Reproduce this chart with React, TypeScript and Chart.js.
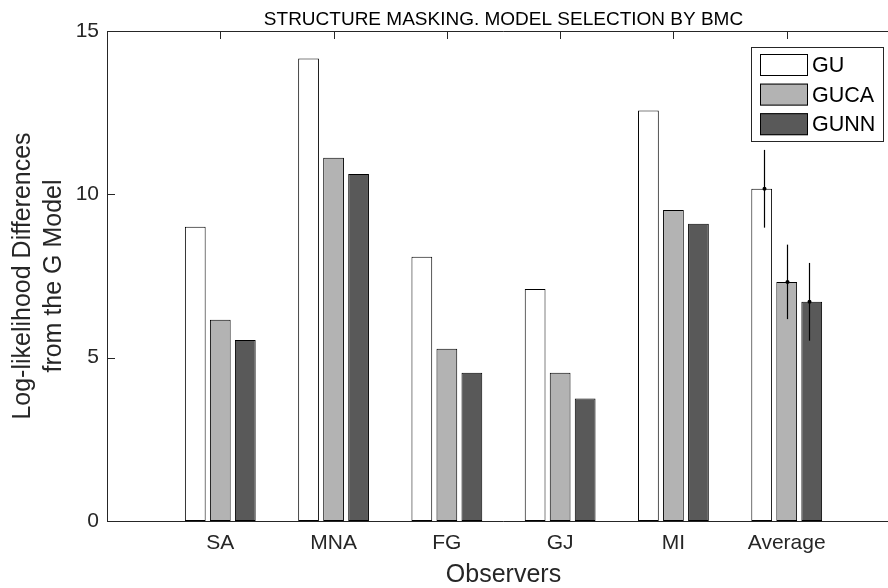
import React, { useEffect, useRef } from "react";
import { Chart, registerables } from "chart.js";

Chart.register(...registerables);

// Observers on the x axis (positions 1..6; position 0 and 7 stay empty)
const observers = ["SA", "MNA", "FG", "GJ", "MI", "Average"];
const seriesNames = ["GU", "GUCA", "GUNN"];

// Log-likelihood differences from the G model, one value per observer
const guValues = [9.01, 14.16, 8.09, 7.1, 12.57, 10.17];
const gucaValues = [6.16, 11.12, 5.27, 4.54, 9.52, 7.32];
const gunnValues = [5.54, 10.62, 4.54, 3.75, 9.1, 6.71];

// Spread of the "Average" bars and the x offsets (in category units) of their error bars
const averageErrors = [1.19, 1.14, 1.19];
const errorOffsets = [-0.2, 0, 0.2];

const yTicks = [0, 5, 10, 15];
const fillColors = ["#ffffff", "#b3b3b3", "#595959"];

const FONT = "'Liberation Sans', Arial, Helvetica, sans-serif";
const AXIS_COLOR = "#262626";

const seriesValues = [guValues, gucaValues, gunnValues];

// Axis frame with MATLAB-style inward tick marks
const frameTicks = {
  id: "frameTicks",
  beforeDatasetsDraw(chart: any) {
    const { ctx, chartArea, scales } = chart;
    const { left, top, bottom } = chartArea;
    const len = 8;
    ctx.save();
    ctx.strokeStyle = AXIS_COLOR;
    ctx.lineWidth = 1;
    ctx.beginPath();
    yTicks.forEach((v) => {
      const y = Math.round(scales.y.getPixelForValue(v)) + 0.5;
      ctx.moveTo(left, y);
      ctx.lineTo(left + len, y);
    });
    observers.forEach((_, i) => {
      const x = Math.round(scales.x.getPixelForValue(i + 1)) + 0.5;
      ctx.moveTo(x, top);
      ctx.lineTo(x, top + len);
      ctx.moveTo(x, bottom);
      ctx.lineTo(x, bottom - len);
    });
    ctx.stroke();
    ctx.restore();
  },
  afterDatasetsDraw(chart: any) {
    const { ctx, chartArea } = chart;
    const { left, right, top, bottom } = chartArea;
    const l = Math.round(left) + 0.5;
    const t = Math.round(top) + 0.5;
    const b = Math.round(bottom) + 0.5;
    ctx.save();
    ctx.strokeStyle = AXIS_COLOR;
    ctx.lineWidth = 1;
    ctx.beginPath();
    ctx.moveTo(right, t);
    ctx.lineTo(l, t);
    ctx.lineTo(l, b);
    ctx.lineTo(right, b);
    ctx.moveTo(Math.round(right) - 0.5, t);
    ctx.lineTo(Math.round(right) - 0.5, b);
    ctx.stroke();
    ctx.restore();
  },
};

// Error bars on the "Average" group
const errorBars = {
  id: "errorBars",
  afterDatasetsDraw(chart: any) {
    const { ctx, scales } = chart;
    const idx = observers.length - 1;
    ctx.save();
    ctx.strokeStyle = "#000";
    ctx.fillStyle = "#000";
    ctx.lineWidth = 1.2;
    seriesValues.forEach((vals, d) => {
      const v = vals[idx];
      const e = averageErrors[d];
      const x = Math.round(scales.x.getPixelForValue(idx + 1 + errorOffsets[d])) + 0.5;
      const yTop = scales.y.getPixelForValue(v + e);
      const yBot = scales.y.getPixelForValue(v - e);
      const yMid = scales.y.getPixelForValue(v);
      ctx.beginPath();
      ctx.moveTo(x, yTop);
      ctx.lineTo(x, yBot);
      ctx.stroke();
      ctx.beginPath();
      ctx.arc(x, yMid, 2, 0, Math.PI * 2);
      ctx.fill();
    });
    ctx.restore();
  },
};

// Boxed legend in the upper right corner of the axes
const boxLegend = {
  id: "boxLegend",
  afterDraw(chart: any) {
    const { ctx, chartArea } = chart;
    const bx = 751;
    const by = chartArea.top + 16;
    const bw = 132;
    const bh = 94;
    ctx.save();
    ctx.fillStyle = "#fff";
    ctx.fillRect(bx, by, bw, bh);
    ctx.strokeStyle = AXIS_COLOR;
    ctx.lineWidth = 1;
    ctx.strokeRect(bx + 0.5, by + 0.5, bw, bh);
    ctx.font = `21.5px ${FONT}`;
    ctx.textBaseline = "middle";
    ctx.textAlign = "left";
    chart.data.datasets.forEach((ds: any, i: number) => {
      const sy = by + 7 + i * 29.6;
      ctx.fillStyle = ds.backgroundColor;
      ctx.fillRect(bx + 9, sy, 48, 22);
      ctx.strokeStyle = "#000";
      ctx.strokeRect(bx + 9.5, sy + 0.5, 47, 21);
      ctx.fillStyle = "#000";
      ctx.fillText(ds.label, bx + 61, sy + 12);
    });
    ctx.restore();
  },
};

// Title centred over the axes
const axesTitle = {
  id: "axesTitle",
  afterDraw(chart: any) {
    const { ctx, chartArea } = chart;
    ctx.save();
    ctx.font = `19px ${FONT}`;
    ctx.fillStyle = "#000";
    ctx.textAlign = "center";
    ctx.textBaseline = "alphabetic";
    ctx.fillText(
      "STRUCTURE MASKING. MODEL SELECTION BY BMC",
      (chartArea.left + chartArea.right) / 2,
      chartArea.top - 6
    );
    ctx.restore();
  },
};

export default function App() {
  const canvasRef = useRef<HTMLCanvasElement | null>(null);

  useEffect(() => {
    if (!canvasRef.current) return;
    const chart = new Chart(canvasRef.current, {
      type: "bar",
      data: {
        datasets: seriesValues.map((vals, d) => ({
          label: seriesNames[d],
          data: vals.map((v, i) => ({ x: i + 1, y: v })),
          backgroundColor: fillColors[d],
          borderColor: "#000",
          borderWidth: 1,
          borderSkipped: false,
          categoryPercentage: 0.6625,
          barPercentage: 0.83,
        })),
      },
      options: {
        responsive: false,
        devicePixelRatio: 1,
        animation: false,
        layout: { padding: { top: 31, right: 5, left: 0, bottom: 0 } },
        plugins: {
          legend: { display: false },
          title: { display: false },
          tooltip: { enabled: false },
        },
        scales: {
          x: {
            type: "linear",
            min: 0,
            max: observers.length + 1,
            offset: false,
            grid: { display: false, drawTicks: false, offset: false },
            border: { display: false },
            afterBuildTicks: (scale: any) => {
              scale.ticks = observers.map((_, i) => ({ value: i + 1 }));
            },
            afterFit: (scale: any) => {
              scale.height = 67;
            },
            ticks: {
              autoSkip: false,
              maxRotation: 0,
              padding: 10,
              color: AXIS_COLOR,
              font: { family: FONT, size: 21 },
              callback: (v: any) => observers[Number(v) - 1] ?? "",
            },
            title: {
              display: true,
              text: "Observers",
              color: AXIS_COLOR,
              font: { family: FONT, size: 25, lineHeight: 1 },
              padding: { top: 0, bottom: 0 },
            },
          },
          y: {
            min: 0,
            max: 15,
            grid: { display: false, drawTicks: false },
            border: { display: false },
            afterBuildTicks: (scale: any) => {
              scale.ticks = yTicks.map((v) => ({ value: v }));
            },
            afterFit: (scale: any) => {
              scale.width = 107;
            },
            ticks: {
              padding: 8,
              color: AXIS_COLOR,
              font: { family: FONT, size: 21 },
            },
            title: {
              display: true,
              text: ["Log-likelihood Differences", "from the G Model"],
              color: AXIS_COLOR,
              font: { family: FONT, size: 25, lineHeight: 1.25 },
              padding: { top: 7, bottom: 0 },
            },
          },
        },
      } as any,
      plugins: [frameTicks, errorBars, boxLegend, axesTitle],
    });
    return () => chart.destroy();
  }, []);

  return (
    <div
      style={{
        position: "fixed",
        left: 0,
        top: 0,
        width: 888,
        height: 588,
        overflow: "hidden",
        background: "#fff",
      }}
    >
      <canvas
        ref={canvasRef}
        width={905}
        height={588}
        style={{ display: "block", width: 905, height: 588 }}
      />
    </div>
  );
}
